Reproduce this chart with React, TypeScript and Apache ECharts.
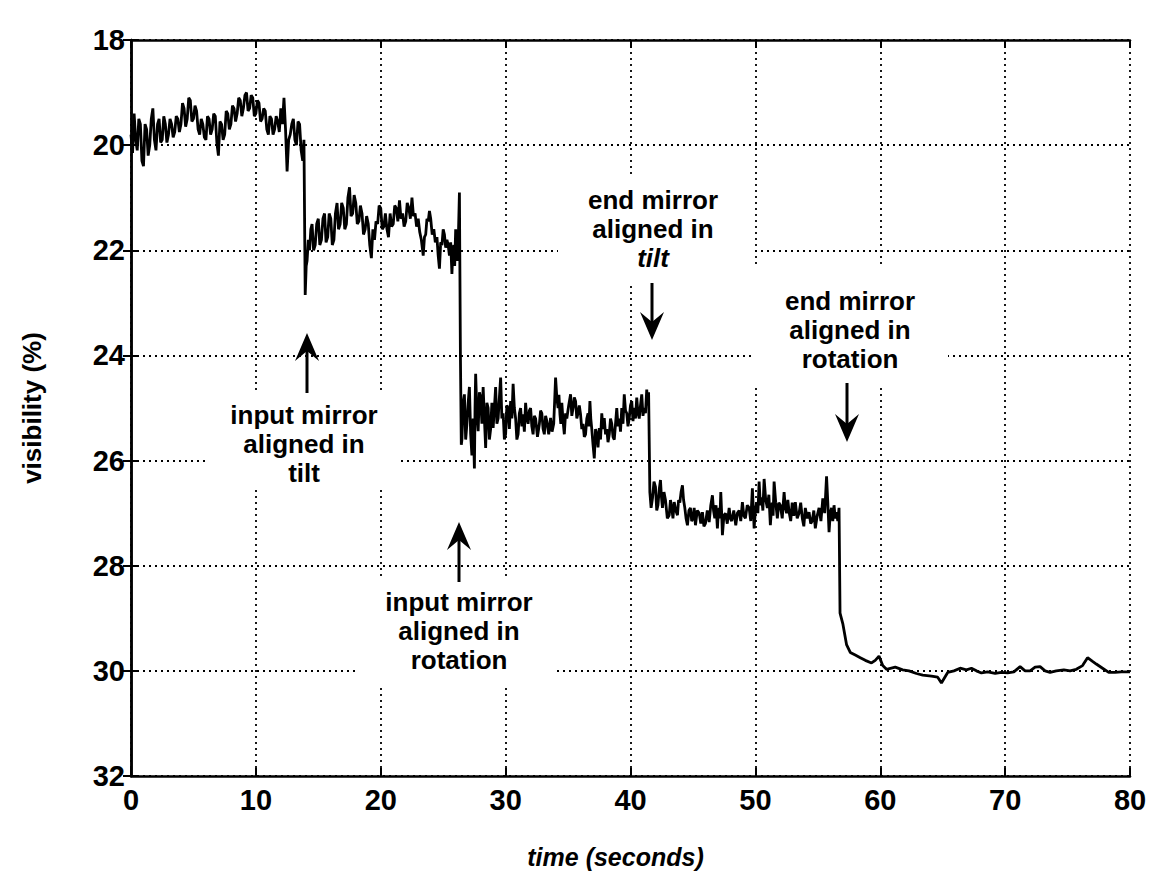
import React, { useEffect, useRef } from "react";
import * as echarts from "echarts";

// ---- data (time in seconds, visibility in %) ----
const beforeInputTilt: [number, number][] = [
  [0, 19.8], [0.125, 20.15], [0.25, 19.4], [0.375, 19.9], [0.5, 20.1], [0.625, 19.5], [0.75, 19.6],
  [0.875, 20.3], [1.0, 20.4], [1.125, 19.6], [1.25, 19.7], [1.375, 20.2], [1.5, 20.0], [1.625, 19.5],
  [1.75, 19.3], [1.875, 19.9], [2.0, 20.1], [2.125, 19.6], [2.25, 19.5], [2.375, 19.95], [2.5, 19.9],
  [2.625, 19.45], [2.75, 19.6], [2.875, 19.95], [3.0, 19.8], [3.125, 19.5], [3.25, 19.6], [3.375, 19.85],
  [3.5, 19.75], [3.625, 19.45], [3.75, 19.5], [3.875, 19.75], [4.0, 19.6], [4.125, 19.2], [4.25, 19.3],
  [4.375, 19.65], [4.5, 19.5], [4.625, 19.1], [4.75, 19.15], [4.875, 19.55], [5.0, 19.5], [5.125, 19.25],
  [5.25, 19.35], [5.375, 19.7], [5.5, 19.8], [5.625, 19.5], [5.75, 19.6], [5.875, 19.85], [6.0, 19.9],
  [6.125, 19.45], [6.25, 19.5], [6.375, 19.8], [6.5, 19.7], [6.625, 19.4], [6.75, 19.45], [6.875, 19.95],
  [7.0, 20.2], [7.125, 19.55], [7.25, 19.6], [7.375, 19.9], [7.5, 19.8], [7.625, 19.35], [7.75, 19.4],
  [7.875, 19.7], [8.0, 19.6], [8.125, 19.25], [8.25, 19.3], [8.375, 19.55], [8.5, 19.4], [8.625, 19.1],
  [8.75, 19.15], [8.875, 19.45], [9.0, 19.3], [9.125, 19.05], [9.25, 19.0], [9.375, 19.35], [9.5, 19.3],
  [9.625, 19.05], [9.75, 19.1], [9.875, 19.45], [10.0, 19.4], [10.125, 19.15], [10.25, 19.2],
  [10.375, 19.55], [10.5, 19.5], [10.625, 19.3], [10.75, 19.35], [10.875, 19.7], [11.0, 19.8],
  [11.125, 19.45], [11.25, 19.5], [11.375, 19.8], [11.5, 19.7], [11.625, 19.45], [11.75, 19.55],
  [11.875, 19.75], [12.0, 19.3], [12.125, 19.6], [12.25, 19.1], [12.375, 19.7], [12.5, 20.5],
  [12.625, 19.9], [12.75, 19.8], [12.875, 19.6], [13.0, 19.5], [13.125, 19.9], [13.25, 20.0],
  [13.375, 19.55], [13.5, 19.6], [13.625, 20.1], [13.75, 20.3], [13.85, 19.9],
];
const afterInputTilt: [number, number][] = [
  [13.95, 22.85], [14.03, 22.3], [14.1, 22.2], [14.2, 21.8], [14.3, 22.0], [14.4, 21.6], [14.5, 21.5],
  [14.62, 22.0], [14.75, 21.9], [14.87, 21.5], [15.0, 21.4], [15.12, 21.9], [15.25, 21.8], [15.37, 21.4],
  [15.5, 21.3], [15.62, 21.85], [15.75, 21.75], [15.87, 21.3], [16.0, 21.4], [16.12, 21.9], [16.25, 21.8],
  [16.37, 21.3], [16.5, 21.1], [16.62, 21.6], [16.75, 21.5], [16.87, 21.1], [17.0, 21.2], [17.12, 21.6],
  [17.25, 21.5], [17.37, 21.0], [17.5, 20.8], [17.62, 21.35], [17.75, 21.3], [17.87, 20.95], [18.0, 21.1],
  [18.12, 21.5], [18.25, 21.45], [18.37, 21.15], [18.5, 21.3], [18.62, 21.7], [18.75, 21.6], [18.87, 21.35],
  [19.0, 21.5], [19.12, 21.9], [19.25, 22.15], [19.37, 21.6], [19.5, 21.8], [19.62, 21.45], [19.75, 21.5],
  [19.87, 21.15], [20.0, 21.2], [20.12, 21.6], [20.25, 21.55], [20.37, 21.3], [20.5, 21.6], [20.62, 21.75],
  [20.75, 21.3], [20.87, 21.55], [21.0, 21.5], [21.12, 21.15], [21.25, 21.2], [21.37, 21.45], [21.5, 21.05],
  [21.62, 21.4], [21.75, 21.3], [21.87, 21.55], [22.0, 21.45], [22.12, 21.1], [22.25, 21.2], [22.37, 21.4],
  [22.5, 21.0], [22.62, 21.35], [22.75, 21.3], [22.87, 21.55], [23.0, 21.4], [23.12, 21.65], [23.25, 21.8],
  [23.4, 22.1], [23.5, 21.75], [23.6, 21.7], [23.7, 21.4], [23.8, 21.45], [23.9, 21.25], [24.0, 21.4],
  [24.12, 21.7], [24.25, 21.6], [24.37, 21.85], [24.5, 21.75], [24.6, 22.1], [24.7, 22.35], [24.8, 21.85],
  [24.9, 21.9], [25.0, 21.6], [25.1, 21.7], [25.2, 21.95], [25.3, 21.8], [25.4, 21.9], [25.5, 22.1],
  [25.6, 21.85], [25.7, 22.45], [25.78, 22.0], [25.85, 21.9], [25.92, 22.3], [26.0, 21.6], [26.07, 22.1],
  [26.15, 22.2], [26.22, 21.7], [26.3, 20.9],
];
const afterInputRotation: [number, number][] = [
  [26.38, 24.0], [26.45, 25.7], [26.5, 25.6], [26.6, 24.9], [26.7, 24.74], [26.8, 25.6], [26.9, 25.3],
  [27.0, 24.9], [27.1, 24.6], [27.2, 25.5], [27.3, 25.9], [27.4, 25.2], [27.5, 26.15], [27.55, 25.0],
  [27.6, 24.35], [27.7, 25.1], [27.8, 25.44], [27.9, 24.7], [28.0, 24.8], [28.1, 25.3], [28.2, 24.6],
  [28.3, 25.2], [28.4, 25.76], [28.5, 24.9], [28.6, 25.0], [28.7, 25.6], [28.8, 25.4], [28.9, 24.9],
  [29.0, 25.38], [29.1, 25.0], [29.2, 24.6], [29.3, 25.3], [29.4, 25.2], [29.5, 24.8], [29.6, 24.42],
  [29.7, 25.2], [29.8, 25.1], [29.9, 25.6], [30.0, 25.5], [30.1, 24.95], [30.2, 25.0], [30.3, 25.4],
  [30.4, 24.87], [30.5, 25.2], [30.6, 24.54], [30.7, 25.0], [30.8, 25.2], [30.9, 25.6], [31.0, 25.5],
  [31.1, 25.1], [31.2, 25.0], [31.3, 25.35], [31.4, 25.12], [31.5, 25.45], [31.6, 24.9], [31.7, 25.2],
  [31.8, 25.3], [31.9, 25.05], [32.0, 25.0], [32.1, 25.35], [32.2, 25.5], [32.3, 25.15], [32.4, 25.2],
  [32.55, 25.55], [32.7, 25.31], [32.8, 25.05], [32.9, 25.1], [33.0, 25.4], [33.1, 25.5], [33.2, 25.15],
  [33.3, 25.25], [33.45, 25.5], [33.6, 25.19], [33.72, 25.45], [33.85, 25.3], [33.92, 24.9], [34.0, 24.42],
  [34.1, 24.8], [34.2, 25.0], [34.27, 24.75], [34.35, 25.12], [34.42, 25.3], [34.5, 24.9], [34.6, 25.25],
  [34.7, 25.5], [34.8, 25.1], [34.9, 25.2], [35.05, 24.95], [35.2, 24.74], [35.3, 25.15], [35.4, 25.0],
  [35.5, 24.8], [35.6, 24.87], [35.7, 25.2], [35.8, 25.1], [35.9, 24.95], [36.0, 25.12], [36.1, 25.4],
  [36.2, 25.3], [36.3, 25.55], [36.4, 25.5], [36.5, 25.2], [36.6, 25.1], [36.67, 25.35], [36.75, 24.87],
  [36.82, 25.2], [36.9, 25.4], [37.0, 25.7], [37.1, 25.96], [37.2, 25.4], [37.3, 25.5], [37.4, 25.75],
  [37.5, 25.38], [37.6, 25.6], [37.7, 25.1], [37.8, 25.4], [37.9, 25.19], [38.0, 25.5], [38.1, 25.4],
  [38.2, 25.65], [38.3, 25.5], [38.4, 25.2], [38.5, 25.3], [38.6, 25.55], [38.7, 25.6], [38.8, 25.3],
  [38.9, 25.0], [39.0, 25.35], [39.1, 25.2], [39.2, 25.45], [39.3, 25.0], [39.4, 25.3], [39.5, 24.74],
  [39.6, 25.05], [39.7, 25.1], [39.8, 25.35], [39.9, 25.19], [40.0, 24.95], [40.1, 24.87], [40.2, 25.25],
  [40.3, 25.0], [40.4, 25.2], [40.5, 24.8], [40.6, 25.1], [40.7, 25.2], [40.8, 24.95], [40.9, 24.74],
  [41.0, 25.15], [41.1, 25.0], [41.2, 25.1], [41.3, 24.65], [41.38, 24.95], [41.45, 24.7],
];
const afterEndTilt: [number, number][] = [
  [41.55, 26.6], [41.65, 26.9], [41.76, 26.72], [41.88, 26.4], [42.0, 26.5], [42.1, 26.95], [42.2, 26.85],
  [42.3, 26.55], [42.4, 26.37], [42.48, 26.7], [42.56, 26.9], [42.68, 26.6], [42.8, 26.75], [42.95, 27.1],
  [43.1, 27.04], [43.2, 26.75], [43.3, 26.9], [43.4, 27.1], [43.5, 26.79], [43.63, 26.95], [43.76, 27.04],
  [43.85, 26.75], [43.95, 26.8], [44.05, 26.6], [44.16, 26.47], [44.25, 26.75], [44.35, 26.9], [44.45, 27.1],
  [44.56, 27.23], [44.68, 26.95], [44.8, 26.9], [44.9, 27.15], [45.0, 27.1], [45.1, 26.9], [45.2, 27.23],
  [45.35, 26.95], [45.5, 27.0], [45.63, 27.2], [45.76, 26.98], [45.88, 27.25], [46.0, 27.2], [46.15, 26.95],
  [46.3, 27.17], [46.43, 26.85], [46.56, 26.66], [46.65, 26.95], [46.75, 27.1], [46.85, 26.85], [46.96, 27.29],
  [47.03, 27.0], [47.1, 26.9], [47.16, 27.1], [47.23, 26.6], [47.3, 27.0], [47.36, 27.42], [47.48, 27.05],
  [47.6, 27.0], [47.75, 27.2], [47.9, 26.9], [48.0, 27.1], [48.1, 27.15], [48.27, 26.95], [48.43, 27.23],
  [48.56, 27.0], [48.7, 26.95], [48.83, 27.15], [48.96, 26.79], [49.08, 27.05], [49.2, 27.1], [49.35, 26.85],
  [49.5, 26.9], [49.63, 27.15], [49.76, 26.53], [49.83, 26.9], [49.9, 27.29], [50.0, 26.95], [50.1, 26.8],
  [50.2, 27.0], [50.3, 26.4], [50.4, 26.85], [50.5, 26.7], [50.6, 26.95], [50.7, 26.35], [50.83, 26.75],
  [50.96, 26.9], [51.08, 26.65], [51.2, 27.23], [51.28, 26.95], [51.35, 26.8], [51.42, 27.05], [51.5, 26.4],
  [51.63, 26.8], [51.76, 27.1], [51.88, 26.8], [52.0, 26.85], [52.15, 27.1], [52.3, 26.6], [52.4, 26.9],
  [52.5, 27.0], [52.6, 26.75], [52.7, 26.98], [52.83, 27.15], [52.95, 26.8], [53.08, 27.05], [53.2, 26.79],
  [53.35, 27.1], [53.5, 27.0], [53.63, 26.8], [53.76, 27.1], [53.88, 27.25], [54.0, 26.9], [54.15, 27.1],
  [54.3, 26.98], [54.43, 27.2], [54.55, 27.15], [54.68, 26.95], [54.8, 27.29], [54.95, 27.05], [55.1, 26.9],
  [55.25, 27.15], [55.4, 26.72], [55.55, 27.0], [55.7, 26.3], [55.8, 26.8], [55.9, 27.36], [56.0, 27.0],
  [56.1, 26.9], [56.2, 27.15], [56.3, 26.85], [56.4, 27.1], [56.5, 26.98], [56.6, 27.15], [56.7, 26.9],
];
const afterEndRotation: [number, number][] = [
  [56.78, 28.9], [57.0, 29.1], [57.3, 29.5], [57.6, 29.65], [58.0, 29.7], [58.4, 29.75],
  [58.8, 29.8], [59.3, 29.85], [59.6, 29.8], [59.9, 29.72], [60.2, 29.9], [60.5, 29.97],
  [61.2, 29.93], [61.8, 29.98], [62.3, 30.0], [62.9, 30.05], [63.4, 30.08], [64.1, 30.1],
  [64.6, 30.12], [64.9, 30.23], [65.4, 30.03], [65.9, 30.0], [66.4, 29.95], [66.9, 29.98],
  [67.3, 29.95], [67.7, 30.0], [68.1, 30.04], [68.6, 30.02], [69.2, 30.05], [69.7, 30.03],
  [70.2, 30.04], [70.7, 30.02], [71.2, 29.92], [71.6, 30.0], [72.0, 30.0], [72.4, 29.93],
  [72.8, 29.92], [73.2, 30.0], [73.6, 30.03], [74.1, 30.0], [74.7, 29.98], [75.2, 30.0],
  [75.7, 29.97], [76.2, 29.9], [76.6, 29.75], [77.0, 29.82], [77.3, 29.87], [77.8, 29.95],
  [78.3, 30.03], [78.8, 30.03], [79.3, 30.02], [80.0, 30.02],
];

const annotationTexts = [
  "input mirror\naligned in\ntilt",
  "input mirror\naligned in\nrotation",
  "end mirror\naligned in\n{i|tilt}",
  "end mirror\naligned in\nrotation",
];

// ---- layout (pixels) ----
const FONT = '"Liberation Sans", Arial, Helvetica, sans-serif';
const annotationLayout = [
  { cx: 304, cy: 444, box: [207, 393, 191, 97], ax: 307, tail: 393, tip: 333 },
  { cx: 459, cy: 631, box: [358, 580, 195, 106], ax: 459, tail: 582, tip: 522 },
  { cx: 653, cy: 229, box: [558, 175, 194, 108], ax: 652, tail: 283, tip: 340 },
  { cx: 850, cy: 330, box: [752, 268, 196, 118], ax: 847, tail: 383, tip: 442 },
];

function buildGraphics() {
  const els: any[] = [];
  annotationLayout.forEach((a, i) => {
    const [bx, by, bw, bh] = a.box;
    els.push({ type: "rect", silent: true, z: 1, shape: { x: bx, y: by, width: bw, height: bh }, style: { fill: "#fff" } });
    const dir = a.tip < a.tail ? -1 : 1; // -1 up, +1 down
    const headLen = 28;
    const notch = 18;
    const half = 12;
    const barbY = a.tip - dir * headLen;
    const notchY = a.tip - dir * notch;
    els.push({
      type: "line", silent: true, z: 3,
      shape: { x1: a.ax, y1: a.tail, x2: a.ax, y2: notchY },
      style: { stroke: "#000", lineWidth: 3 },
    });
    els.push({
      type: "polygon", silent: true, z: 3,
      shape: { points: [[a.ax, a.tip], [a.ax + half, barbY], [a.ax, notchY], [a.ax - half, barbY]] },
      style: { fill: "#000" },
    });
    els.push({
      type: "text", silent: true, z: 3, x: a.cx, y: a.cy,
      style: {
        text: annotationTexts[i],
        fill: "#000",
        font: `bold 26px ${FONT}`,
        fontSize: 26,
        fontWeight: "bold",
        fontFamily: FONT,
        lineHeight: 29,
        align: "center",
        verticalAlign: "middle",
        rich: {
          i: { fontStyle: "italic", fontWeight: "bold", fontSize: 26, fontFamily: FONT, lineHeight: 29, fill: "#000" },
        },
      },
    });
  });
  return els;
}

const dotted = { color: "#000", width: 1.8, type: [2, 4] as any };
const axisLabelStyle = { color: "#000", fontSize: 29, fontFamily: FONT, fontWeight: "bold" as const };

export default function App() {
  const ref = useRef<HTMLDivElement>(null);
  useEffect(() => {
    if (!ref.current) return;
    const chart = echarts.init(ref.current, undefined, { renderer: "svg" });
    const data = [
      ...beforeInputTilt,
      ...afterInputTilt,
      ...afterInputRotation,
      ...afterEndTilt,
      ...afterEndRotation,
    ];
    chart.setOption({
      animation: false,
      backgroundColor: "#fff",
      grid: { left: 131, right: 22, top: 40, bottom: 108, containLabel: false },
      xAxis: [
        {
          type: "value", min: 0, max: 80, interval: 10, position: "bottom",
          name: "time (seconds)", nameLocation: "middle", nameGap: 68,
          nameTextStyle: { color: "#000", fontSize: 25, fontFamily: FONT, fontWeight: "bold", fontStyle: "italic", padding: [0, 30, 0, 0] },
          axisLine: { show: true, lineStyle: { color: "#000", width: 2.5 } },
          axisTick: { show: true, inside: true, length: 8, lineStyle: { color: "#000", width: 2 } },
          axisLabel: { ...axisLabelStyle, margin: 9 },
          splitLine: { show: true, lineStyle: dotted },
        },
        {
          type: "value", min: 0, max: 80, interval: 10, position: "top",
          axisLine: { show: true, lineStyle: { color: "#000", width: 2.5 } },
          axisTick: { show: true, inside: true, length: 8, lineStyle: { color: "#000", width: 2 } },
          axisLabel: { show: false },
          splitLine: { show: false },
        },
      ],
      yAxis: [
        {
          type: "value", min: 18, max: 32, interval: 2, inverse: true, position: "left",
          name: "visibility (%)", nameLocation: "middle", nameGap: 86, nameRotate: 90,
          nameTextStyle: { color: "#000", fontSize: 26, fontFamily: FONT, fontWeight: "bold" },
          axisLine: { show: true, lineStyle: { color: "#000", width: 2.5 } },
          axisTick: { show: true, inside: true, length: 8, lineStyle: { color: "#000", width: 2 } },
          axisLabel: { ...axisLabelStyle, margin: 6 },
          splitLine: { show: true, lineStyle: dotted },
        },
        {
          type: "value", min: 18, max: 32, interval: 2, inverse: true, position: "right",
          axisLine: { show: true, lineStyle: { color: "#000", width: 2.5 } },
          axisTick: { show: true, inside: true, length: 8, lineStyle: { color: "#000", width: 2 } },
          axisLabel: { show: false },
          splitLine: { show: false },
        },
      ],
      series: [
        {
          type: "line",
          name: "visibility",
          data,
          xAxisIndex: 0,
          yAxisIndex: 0,
          showSymbol: false,
          symbol: "none",
          lineStyle: { color: "#000", width: 2.8 },
          z: 2,
        },
      ],
      graphic: buildGraphics(),
    });
    return () => chart.dispose();
  }, []);
  return (
    <div
      ref={ref}
      style={{ position: "absolute", left: 0, top: 0, width: 1152, height: 884, background: "#fff" }}
    />
  );
}
